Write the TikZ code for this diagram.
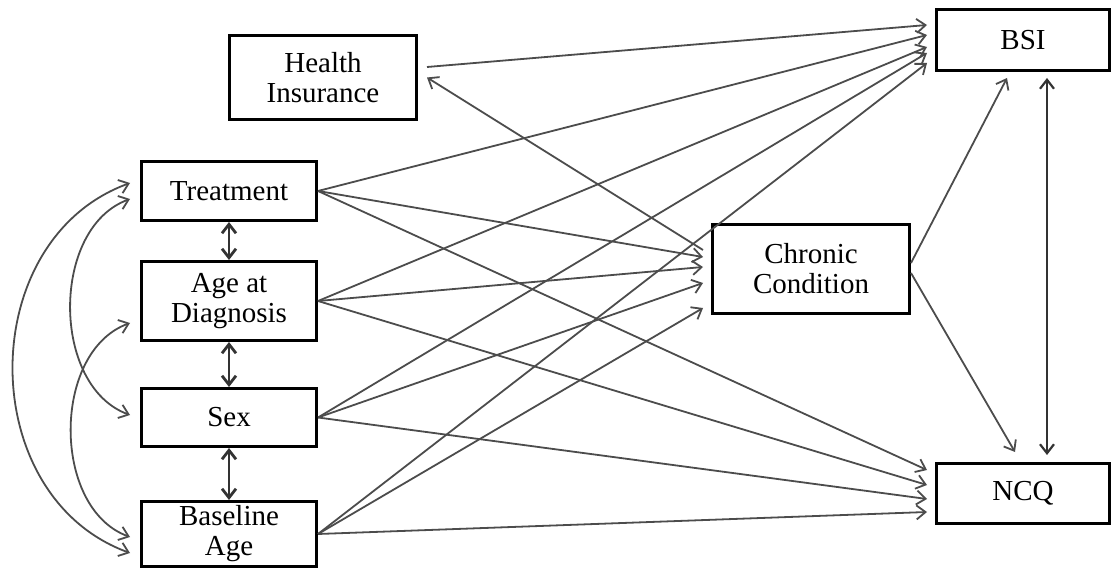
\documentclass[tikz,border=0pt]{standalone}
\usepackage{fontspec}
\setmainfont{Liberation Serif}
\usetikzlibrary{arrows.meta, positioning}
\tikzset{
  var/.style={rectangle, draw=black, line width=3pt, fill=white, align=center, inner sep=2pt, font=\fontsize{29}{30}\selectfont},
  link/.style={draw=black!70, line width=1.8pt, ->},
  cov/.style={draw=black!70, line width=1.8pt, <->},
  adj/.style={draw=black!80, line width=2.8pt, <->},
  >={Straight Barb[length=9pt,width=14pt]}
}

\begin{document}
\begin{tikzpicture}[x=1pt, y=1pt]

  \useasboundingbox (0,0) rectangle (1114,571);

  \node (hi) [var, minimum width=187pt, minimum height=84pt] at (323,493.5) {Health\\Insurance};
  \node (treat) [var, minimum width=175pt, minimum height=59pt] at (229,380) {Treatment};
  \node (diag) [var, minimum width=175pt, minimum height=79pt, below=38pt of treat] {Age at\\Diagnosis};
  \node (sex) [var, minimum width=175pt, minimum height=58pt, below=45pt of diag] {Sex};
  \node (base) [var, minimum width=175pt, minimum height=65pt, below=52pt of sex] {Baseline\\Age};
  \node (chronic) [var, minimum width=197pt, minimum height=89pt] at (811,302) {Chronic\\Condition};
  \node (bsi) [var, minimum width=173pt, minimum height=61pt] at (1023,531) {BSI};
  \node (ncq) [var, minimum width=173pt, minimum height=60pt, below=390pt of bsi] {NCQ};

  % to BSI
  \draw [link] ([xshift=9pt,yshift=10.5pt]hi.east) -- ([xshift=-8pt,yshift=15pt]bsi.west);
  \draw [link] (treat.east) -- ([xshift=-8pt,yshift=5pt]bsi.west);
  \draw [link] (diag.east) -- ([xshift=-8pt,yshift=-7pt]bsi.west);
  \draw [link] (sex.east) -- ([xshift=-8pt,yshift=-13pt]bsi.west);
  \draw [link] (base.east) -- ([xshift=-8pt,yshift=-23pt]bsi.west);

  % to Chronic Condition
  \draw [link] (treat.east) -- ([xshift=-8pt,yshift=12pt]chronic.west);
  \draw [link] (diag.east) -- ([xshift=-8pt,yshift=2pt]chronic.west);
  \draw [link] (sex.east) -- ([xshift=-8pt,yshift=-14pt]chronic.west);
  \draw [link] (base.east) -- ([xshift=-8pt,yshift=-39pt]chronic.west);
  \draw [link] ([xshift=-8pt,yshift=19pt]chronic.west) -- ([xshift=9pt]hi.east);

  % to NCQ
  \draw [link] (treat.east) -- ([xshift=-8pt,yshift=23.5pt]ncq.west);
  \draw [link] (diag.east) -- ([xshift=-8pt,yshift=8.5pt]ncq.west);
  \draw [link] (sex.east) -- ([xshift=-8pt,yshift=-5.5pt]ncq.west);
  \draw [link] (base.east) -- ([xshift=-8pt,yshift=-18.5pt]ncq.west);

  \draw [link] ([yshift=6pt]chronic.east) -- ([xshift=-16pt,yshift=-6pt]bsi.south);
  \draw [link] ([yshift=-4pt]chronic.east) -- ([xshift=-8pt,yshift=10pt]ncq.north);
  \draw [cov, line width=2.2pt, draw=black!80] ([xshift=24pt,yshift=-6pt]bsi.south) -- ([xshift=24pt,yshift=7pt]ncq.north);

  % covariances
  \draw [adj] (treat) -- (diag);
  \draw [adj] (diag) -- (sex);
  \draw [adj] (sex) -- (base);
  \draw [cov] ([xshift=-10pt,yshift=8pt]treat.west) to[out=200, in=160, looseness=1.15] ([xshift=-10pt,yshift=-19pt]base.west);
  \draw [cov] ([xshift=-10pt,yshift=-8pt]treat.west) to[out=200, in=160] ([xshift=-10pt,yshift=2.5pt]sex.west);
  \draw [cov] ([xshift=-10pt,yshift=-22pt]diag.west) to[out=200, in=160] ([xshift=-10pt,yshift=-3pt]base.west);

\end{tikzpicture}
\end{document}
